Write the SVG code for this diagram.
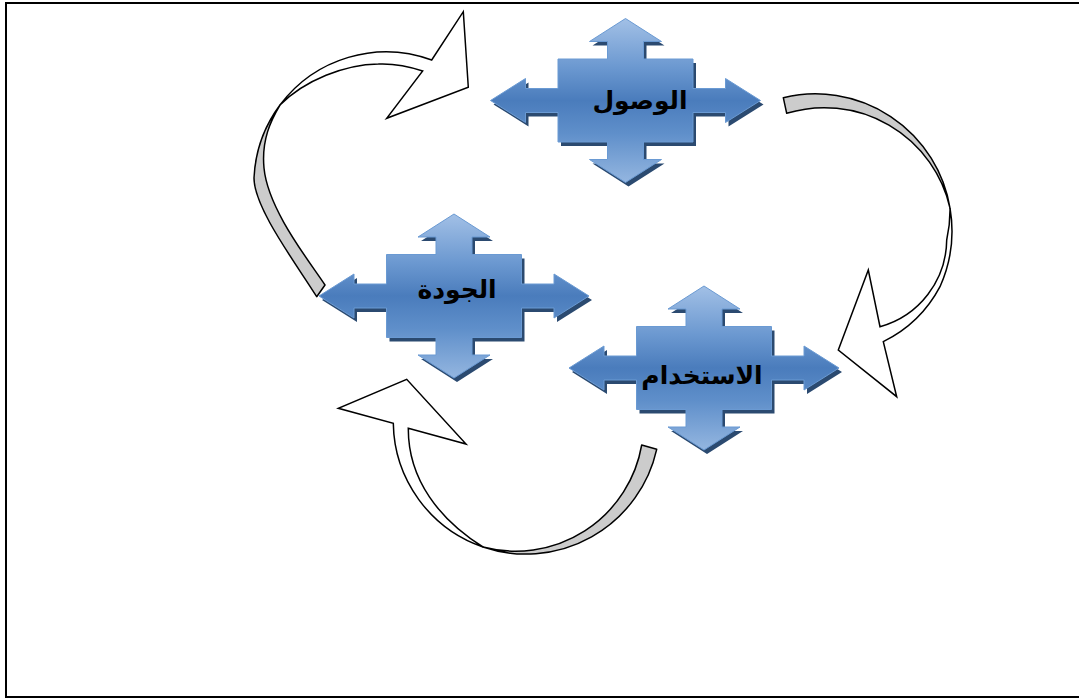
<svg xmlns="http://www.w3.org/2000/svg" width="1079" height="700" viewBox="0 0 1079 700">
<style>
.frame{fill:#ffffff;stroke:#000000;stroke-width:2}
.back{fill:#cccccc;stroke:#000000;stroke-width:1.5;stroke-linejoin:round}
.front{fill:#ffffff;stroke:#000000;stroke-width:1.5;stroke-linejoin:miter}
.shape{fill:url(#blueGrad);stroke:#6a9ad3;stroke-width:1}
.shadow{fill:#2b4a70}
.label{font-family:"DejaVu Sans",sans-serif;font-weight:bold;font-size:25px;fill:#000000;text-anchor:middle}
</style>
<defs>
<linearGradient id="blueGrad" x1="0" y1="0" x2="0" y2="1">
<stop offset="0" stop-color="#a2c0e6"/>
<stop offset="0.3" stop-color="#6b98d0"/>
<stop offset="0.5" stop-color="#4a7cbc"/>
<stop offset="0.7" stop-color="#5f8fca"/>
<stop offset="1" stop-color="#94b6e0"/>
</linearGradient>
<path id="cross" d="M 0,-82 L 36,-59 L 18,-59 L 18,-41.5 L 67.5,-41.5 L 67.5,-12 L 100,-12 L 100,-22 L 135,0 L 100,22 L 100,12 L 67.5,12 L 67.5,41.5 L 18,41.5 L 18,59 L 36,59 L 0,82 L -36,59 L -18,59 L -18,41.5 L -67.5,41.5 L -67.5,12 L -100,12 L -100,22 L -135,0 L -100,-22 L -100,-12 L -67.5,-12 L -67.5,-41.5 L -18,-41.5 L -18,-59 L -36,-59 Z"/>
</defs>
<rect class="frame" x="6" y="3" width="1080" height="694"/>
<g id="connectors">
<g id="arrow-quality-to-access">
<path class="back" d="M 280,105 A 132.5 132.5 0 0 0 254,178 C 254,208 295.5,262.7 316.7,296.7 L 325,285 C 310,262 268,210 264,168 C 261.3,140 271,120 280,105 Z"/>
<path class="front" d="M 280,105 A 132.5 132.5 0 0 1 431.7,60 L 463.3,11.7 L 468.3,87.3 L 386.7,118.3 L 422.7,71 C 405,65 390,63.5 378.3,64 C 345,64.5 305,80 280,105 Z"/>
</g>
<g id="arrow-access-to-use">
<path class="back" d="M 783.3,97.7 A 136.5 136.5 0 0 1 950,208 A 129 129 0 0 0 786.7,113.3 Z"/>
<path class="front" d="M 950,208 A 136.5 136.5 0 0 1 940,286.7 A 128 128 0 0 1 883.3,341.7 L 896.7,396.7 L 838.3,350 L 868.3,270 L 880,326.7 A 91 91 0 0 0 946.7,240 A 136 136 0 0 0 950,208 Z"/>
</g>
<g id="arrow-use-to-quality">
<path class="back" d="M 656.7,449.3 A 134 134 0 0 1 483,547 A 128 128 0 0 0 641.7,445 Z"/>
<path class="front" d="M 483,547 A 133 133 0 0 1 393.3,423.3 L 338.3,408.3 L 406.7,379.3 L 466,444 L 408.3,428.3 C 408,480 440,520 483,547 Z"/>
</g>
</g>
<g id="node-access">
<use href="#cross" class="shadow" transform="translate(628.5,104.5)"/>
<use href="#cross" class="shape" transform="translate(625.5,100.5)"/>
<text class="label" x="640" y="109">الوصول</text>
</g>
<g id="node-quality">
<use href="#cross" class="shadow" transform="translate(457,300)"/>
<use href="#cross" class="shape" transform="translate(454,296)"/>
<text class="label" x="457" y="298">الجودة</text>
</g>
<g id="node-use">
<use href="#cross" class="shadow" transform="translate(707,372)"/>
<use href="#cross" class="shape" transform="translate(704,368)"/>
<text class="label" x="702" y="384">الاستخدام</text>
</g>
</svg>
